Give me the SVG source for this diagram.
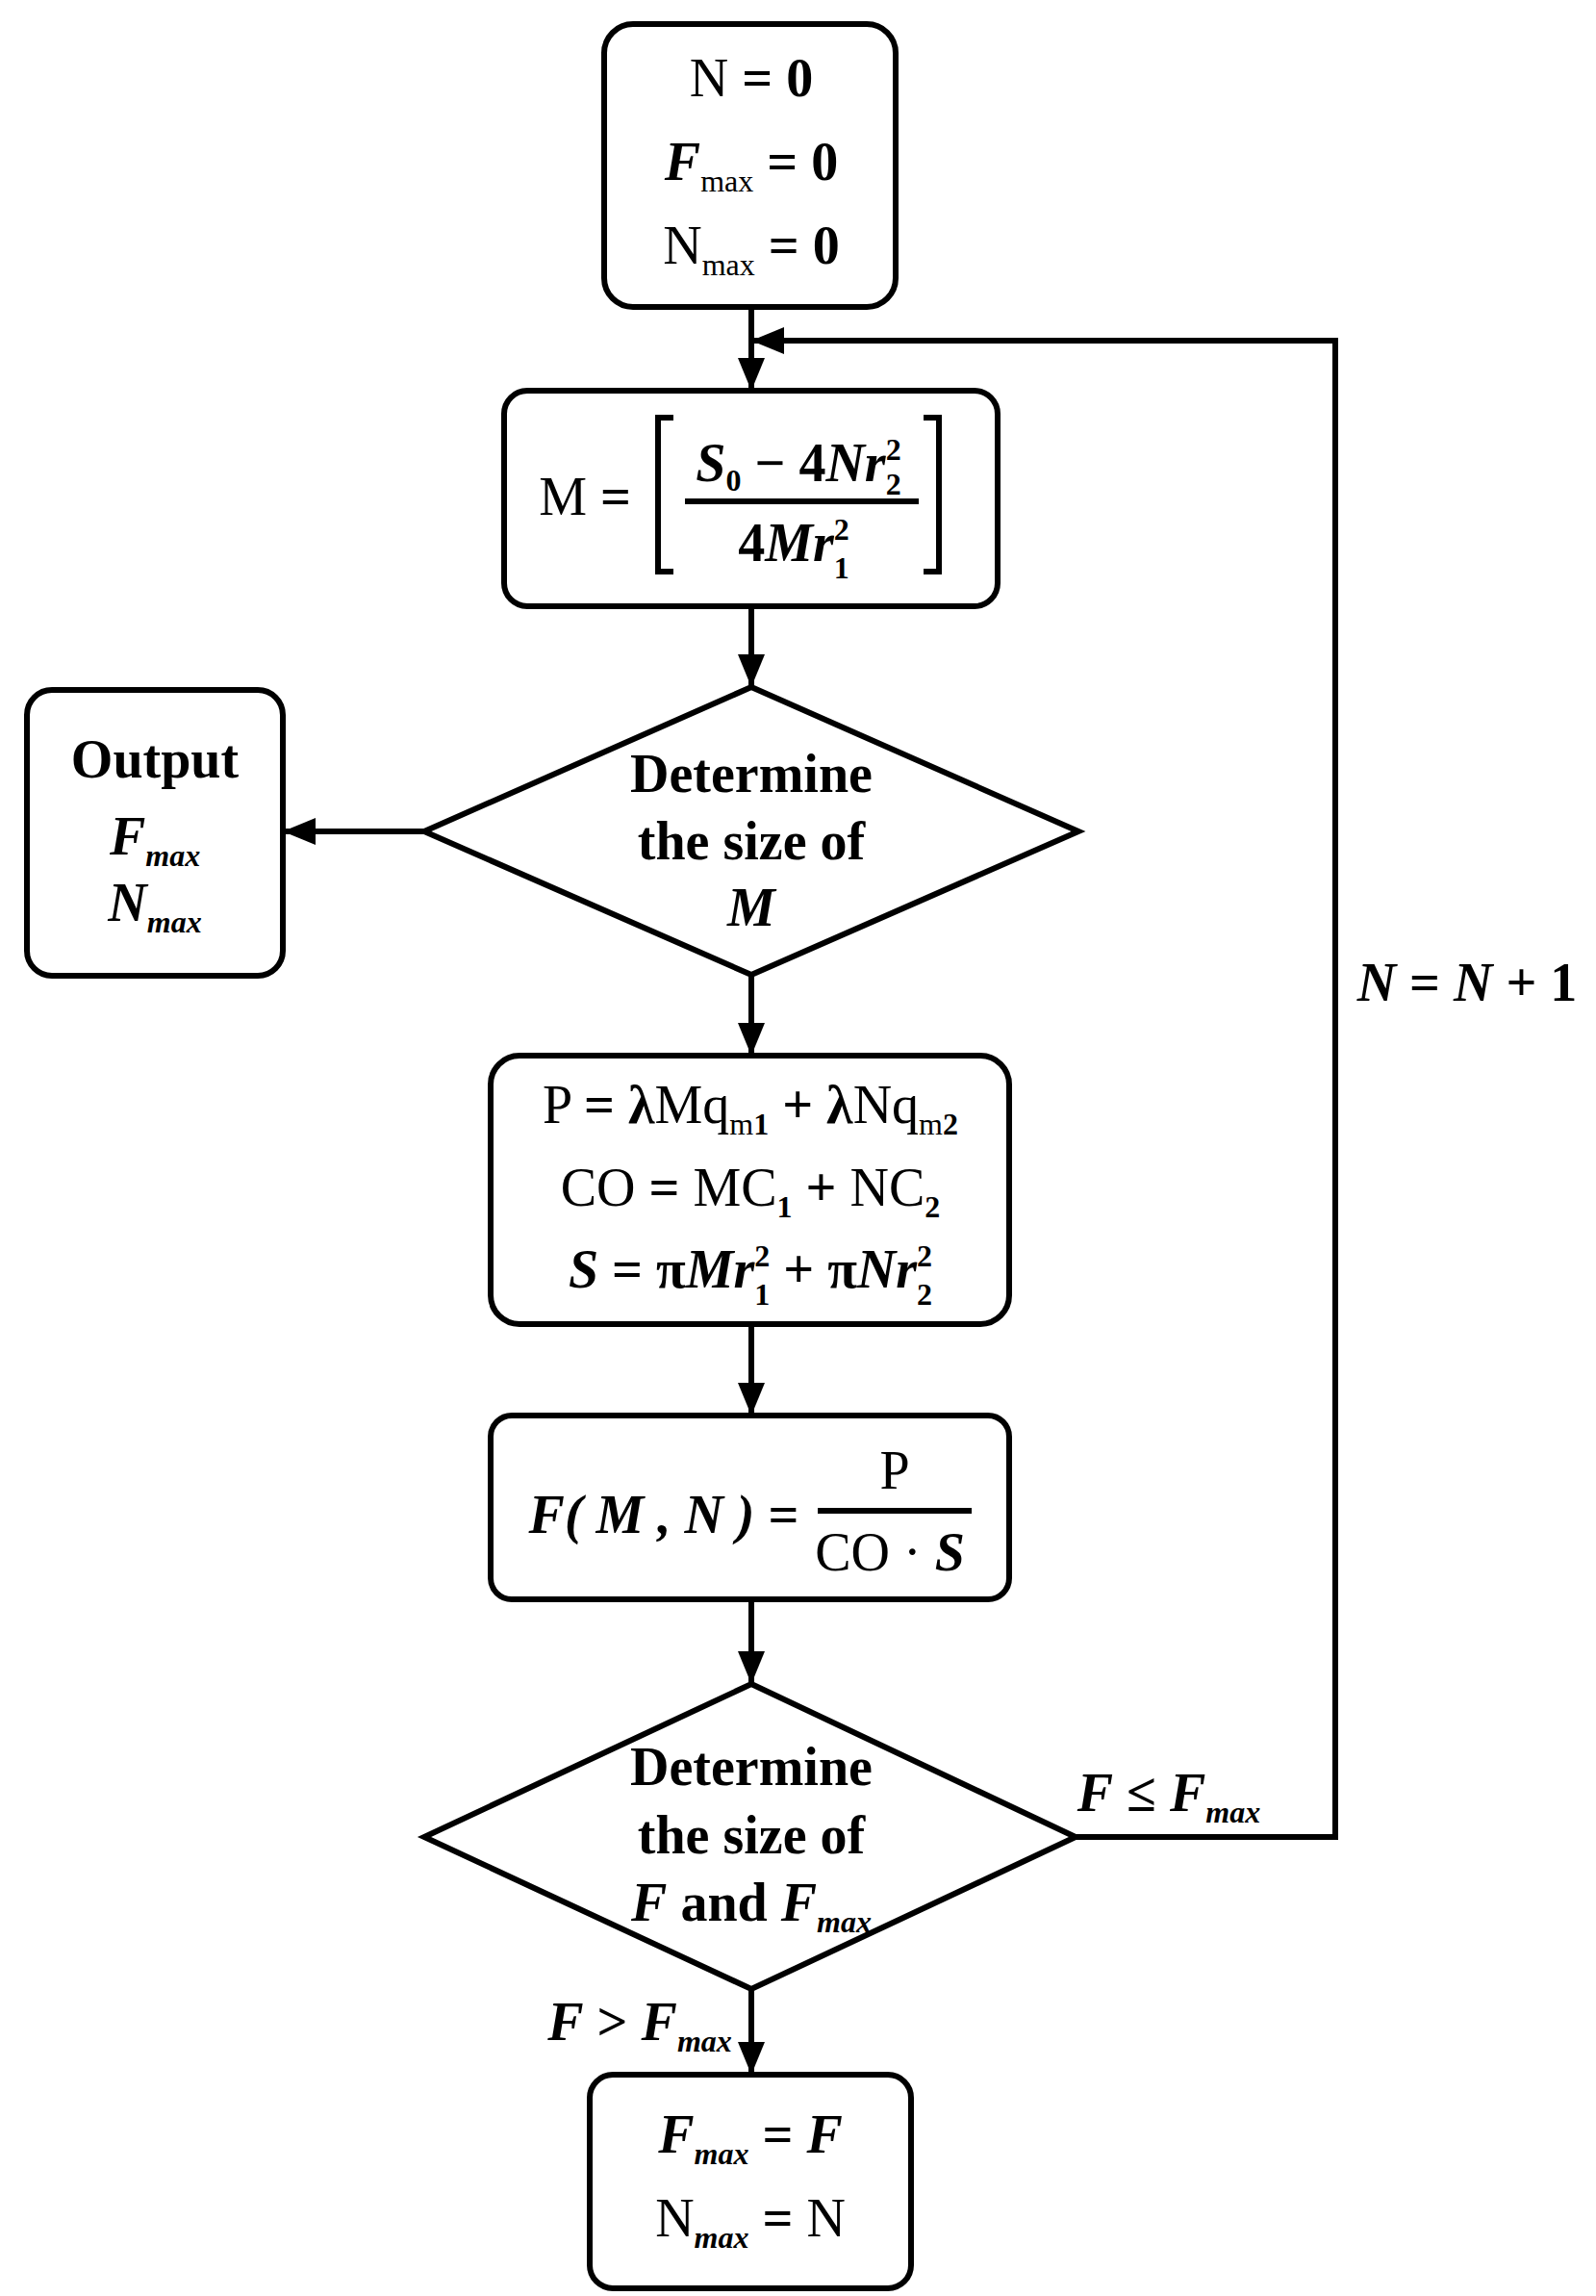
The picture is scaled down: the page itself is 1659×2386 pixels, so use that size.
<svg xmlns="http://www.w3.org/2000/svg" width="1659" height="2386" viewBox="0 0 1659 2386">
<style>
.n{fill:#fff;stroke:#000;stroke-width:6}
.c{fill:none;stroke:#000;stroke-width:6}
text{font-family:"Liberation Serif","Times New Roman",serif;font-size:56px;fill:#000;text-anchor:middle}
.b{font-weight:bold}
.i{font-style:italic;font-weight:bold}
.s{font-size:32px}
</style>
<defs><marker id="h" markerWidth="34" markerHeight="28" refX="32" refY="14" orient="auto" markerUnits="userSpaceOnUse"><path d="M0,0 L34,14 L0,28z"/></marker></defs>
<rect width="1659" height="2386" fill="#fff"/>
<g id="connectors">
<line class="c" x1="781" y1="319" x2="781" y2="404" marker-end="url(#h)"/>
<polyline class="c" points="1118,1909 1388,1909 1388,354 783,354" marker-end="url(#h)"/>
<line class="c" x1="781" y1="630" x2="781" y2="712" marker-end="url(#h)"/>
<line class="c" x1="441" y1="864" x2="296" y2="864" marker-end="url(#h)"/>
<line class="c" x1="781" y1="1013" x2="781" y2="1095" marker-end="url(#h)"/>
<line class="c" x1="781" y1="1376" x2="781" y2="1469" marker-end="url(#h)"/>
<line class="c" x1="781" y1="1662" x2="781" y2="1748" marker-end="url(#h)"/>
<line class="c" x1="781" y1="2067" x2="781" y2="2154" marker-end="url(#h)"/>
<text x="1525" y="1040" class="i">N <tspan class="b" font-style="normal">=</tspan> N <tspan class="b" font-style="normal">+ 1</tspan></text>
<text x="1215" y="1882"><tspan class="i">F</tspan> <tspan class="b">≤</tspan> <tspan class="i">F</tspan><tspan class="i s" dy="12">max</tspan></text>
<text x="665" y="2120"><tspan class="i">F</tspan> <tspan class="b">&gt;</tspan> <tspan class="i">F</tspan><tspan class="i s" dy="12">max</tspan></text>
</g>
<g id="start">
<rect class="n" x="628" y="25" width="303" height="294" rx="30"/>
<text x="781" y="100">N <tspan class="b">= 0</tspan></text>
<text x="781" y="187"><tspan class="i">F</tspan><tspan class="s" dy="12">max</tspan><tspan class="b" dy="-12"> = 0</tspan></text>
<text x="781" y="274">N<tspan class="s" dy="12">max</tspan><tspan class="b" dy="-12"> = 0</tspan></text>
</g>
<g id="calcM">
<rect class="n" x="524" y="406" width="513" height="224" rx="24"/>
<text x="608" y="535">M <tspan class="b">=</tspan></text>
<path class="c" d="M700,434 H684 V594 H700 M960,434 H976 V594 H960" stroke-width="5"/>
<line class="c" x1="712" y1="521" x2="955" y2="521" stroke-width="4"/>
<text x="830" y="500"><tspan class="i">S</tspan><tspan class="b s" dy="10">0</tspan><tspan class="b" dy="-10"> − 4</tspan><tspan class="i">Nr</tspan><tspan class="b s" dy="-22">2</tspan><tspan class="b s" dx="-16" dy="36">2</tspan></text>
<text x="825" y="583"><tspan class="b">4</tspan><tspan class="i">Mr</tspan><tspan class="b s" dy="-22">2</tspan><tspan class="b s" dx="-16" dy="40">1</tspan></text>
</g>
<g id="decideM">
<polygon class="n" points="781,714 1121,864 781,1013 441,864"/>
<text x="781" y="823" class="b">Determine</text>
<text x="781" y="893" class="b">the size of</text>
<text x="781" y="962" class="i">M</text>
</g>
<g id="output">
<rect class="n" x="28" y="717" width="266" height="297" rx="26"/>
<text x="161" y="808" class="b">Output</text>
<text x="161" y="888"><tspan class="i">F</tspan><tspan class="i s" dy="12">max</tspan></text>
<text x="161" y="957"><tspan class="i">N</tspan><tspan class="i s" dy="12">max</tspan></text>
</g>
<g id="calcPCS">
<rect class="n" x="510" y="1097" width="539" height="279" rx="30"/>
<text x="780" y="1167">P <tspan class="b">= λ</tspan>Mq<tspan class="s" dy="12">m<tspan class="b">1</tspan></tspan><tspan class="b" dy="-12"> + λ</tspan>Nq<tspan class="s" dy="12">m<tspan class="b">2</tspan></tspan></text>
<text x="780" y="1253">CO <tspan class="b">=</tspan> MC<tspan class="b s" dy="12">1</tspan><tspan class="b" dy="-12"> + </tspan>NC<tspan class="b s" dy="12">2</tspan></text>
<text x="780" y="1338"><tspan class="i">S</tspan><tspan class="b"> = π</tspan><tspan class="i">Mr</tspan><tspan class="b s" dy="-22">2</tspan><tspan class="b s" dx="-16" dy="40">1</tspan><tspan class="b" dy="-18"> + π</tspan><tspan class="i">Nr</tspan><tspan class="b s" dy="-22">2</tspan><tspan class="b s" dx="-16" dy="40">2</tspan></text>
</g>
<g id="calcF">
<rect class="n" x="510" y="1471" width="539" height="191" rx="22"/>
<text x="690" y="1593" class="i">F( M , N )<tspan font-style="normal"> =</tspan></text>
<line class="c" x1="850" y1="1570" x2="1010" y2="1570" stroke-width="3"/>
<text x="930" y="1547">P</text>
<text x="925" y="1632">CO · <tspan class="i">S</tspan></text>
</g>
<g id="decideF">
<polygon class="n" points="781,1750 1118,1909 781,2067 441,1909"/>
<text x="781" y="1855" class="b">Determine</text>
<text x="781" y="1926" class="b">the size of</text>
<text x="781" y="1996"><tspan class="i">F</tspan><tspan class="b"> and </tspan><tspan class="i">F</tspan><tspan class="i s" dy="12">max</tspan></text>
</g>
<g id="update">
<rect class="n" x="613" y="2156" width="334" height="222" rx="24"/>
<text x="780" y="2237"><tspan class="i">F</tspan><tspan class="i s" dy="12">max</tspan><tspan class="b" dy="-12"> = </tspan><tspan class="i">F</tspan></text>
<text x="780" y="2324">N<tspan class="i s" dy="12">max</tspan><tspan class="b" dy="-12"> = </tspan>N</text>
</g>
</svg>
